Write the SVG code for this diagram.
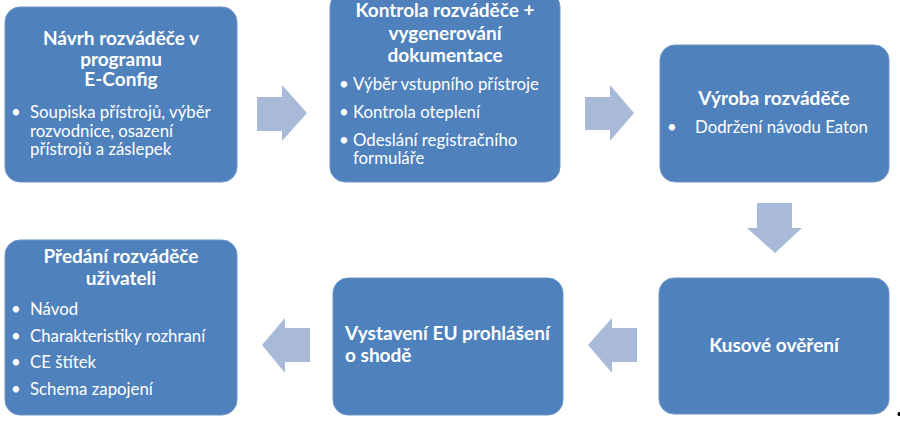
<svg xmlns="http://www.w3.org/2000/svg" width="900" height="421" viewBox="0 0 900 421">
<style>
.box{fill:#4F81BD;stroke:#6E95C8;stroke-width:1}
.arr{fill:#A9BAD9}
.t{font-family:Lato,"Open Sans",sans-serif;fill:#FFFFFF;font-weight:bold;font-size:19px}
.b{font-family:Lato,"Open Sans",sans-serif;fill:#FFFFFF;font-size:16.8px}
.c{text-anchor:middle}
</style>
<rect width="900" height="421" fill="#FFFFFF"/>
<g id="connectors">
<polygon class="arr" points="257,97 282,97 282,85 307,113 282,141 282,131 257,131"/>
<polygon class="arr" points="585,97 610,97 610,85 634,113 610,141 610,130 585,130"/>
<polygon class="arr" points="757,203 792,203 792,228 802,228 775,253 747,228 757,228"/>
<polygon class="arr" points="637,328 612,328 612,318 588,345 612,373 612,362 637,362"/>
<polygon class="arr" points="310,328 285,328 285,318 262,345 285,373 285,362 310,362"/>
</g>
<g id="n1">
<rect class="box" x="5" y="7" width="232" height="175" rx="15"/>
<text class="t c" x="121" y="45">Návrh rozváděče v</text>
<text class="t c" x="121" y="65.5">programu</text>
<text class="t c" x="121" y="86">E-Config</text>
<text class="b" x="11" y="118">•</text>
<text class="b" x="30" y="118">Soupiska přístrojů, výběr</text>
<text class="b" x="30" y="136.5">rozvodnice, osazení</text>
<text class="b" x="30" y="155">přístrojů a záslepek</text>
</g>
<g id="n2">
<rect class="box" x="330" y="-8" width="230" height="190" rx="15"/>
<text class="t c" x="445" y="17">Kontrola rozváděče +</text>
<text class="t c" x="445" y="39.5">vygenerování</text>
<text class="t c" x="445" y="62">dokumentace</text>
<text class="b" x="339" y="90">•</text>
<text class="b" x="353" y="90">Výběr vstupního přístroje</text>
<text class="b" x="339" y="118">•</text>
<text class="b" x="353" y="118">Kontrola oteplení</text>
<text class="b" x="339" y="146">•</text>
<text class="b" x="353" y="146">Odeslání registračního</text>
<text class="b" x="353" y="164">formuláře</text>
</g>
<g id="n3">
<rect class="box" x="660" y="45" width="229" height="137" rx="15"/>
<text class="t c" x="774" y="105">Výroba rozváděče</text>
<text class="b" x="667" y="133">•</text>
<text class="b" x="695" y="133">Dodržení návodu Eaton</text>
</g>
<g id="n4">
<rect class="box" x="659" y="278" width="230" height="136" rx="15"/>
<text class="t c" x="774" y="352">Kusové ověření</text>
</g>
<g id="n5">
<rect class="box" x="333" y="278" width="230" height="137" rx="15"/>
<text class="t" x="345" y="340">Vystavení EU prohlášení</text>
<text class="t" x="345" y="362">o shodě</text>
</g>
<g id="n6">
<rect class="box" x="5" y="240" width="232" height="175" rx="15"/>
<text class="t c" x="121" y="263">Předání rozváděče</text>
<text class="t c" x="121" y="285">uživateli</text>
<text class="b" x="11" y="315">•</text>
<text class="b" x="30" y="315">Návod</text>
<text class="b" x="11" y="342">•</text>
<text class="b" x="30" y="342">Charakteristiky rozhraní</text>
<text class="b" x="11" y="368">•</text>
<text class="b" x="30" y="368">CE štítek</text>
<text class="b" x="11" y="395">•</text>
<text class="b" x="30" y="395">Schema zapojení</text>
</g>
<ellipse cx="899" cy="414" rx="1.5" ry="2" fill="#000000"/>
</svg>
